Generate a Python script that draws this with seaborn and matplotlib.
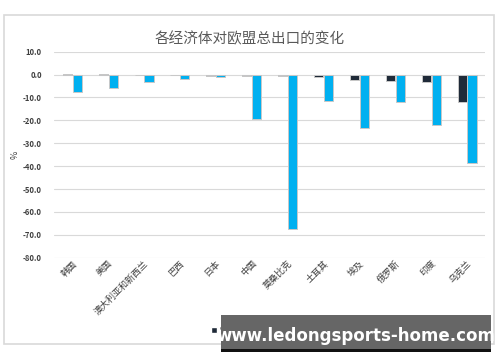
import matplotlib
matplotlib.use("Agg")
import matplotlib.pyplot as plt
import seaborn as sns
import pandas as pd
from matplotlib.patches import Rectangle, Patch

sns.set_theme(style="white")
plt.rcParams['font.family'] = ['Noto Sans CJK SC', 'DejaVu Sans']

categories = ["韩国", "美国", "澳大利亚和新西兰", "巴西", "日本", "中国",
              "莫桑比克", "土耳其", "埃及", "俄罗斯", "印度", "乌克兰"]
scenario1 = [0.3, 0.2, -0.3, -0.3, -0.5, -0.5, -0.4, -1.0, -2.4, -2.8, -3.1, -11.8]
scenario2 = [-7.6, -5.9, -3.1, -1.8, -1.0, -19.4, -67.5, -11.4, -23.2, -12.1, -21.9, -38.8]
series_names = ["情景一", "情景二"]
yticks = [10, 0, -10, -20, -30, -40, -50, -60, -70, -80]
colors = ["#1f2a38", "#00b0f0"]

df = pd.DataFrame({
    "cat": categories * 2,
    "val": scenario1 + scenario2,
    "s": [series_names[0]] * len(categories) + [series_names[1]] * len(categories),
})

fig = plt.figure(figsize=(5.0, 3.62), dpi=100)
fig.patch.set_facecolor("white")
fig.patches.append(Rectangle((4/500, 1-344/362), 490/500, (344-15)/362,
                             transform=fig.transFigure, fill=False,
                             edgecolor="#d9d9d9", linewidth=1.2))

ax = fig.add_axes([54.3/500, 1-257.7/362, (485-54.3)/500, (257.7-51.7)/362])
sns.barplot(data=df, x="cat", y="val", hue="s", order=categories,
            palette=colors, saturation=1, width=0.55, gap=0.08,
            edgecolor="#c8c8c8", linewidth=0.7, ax=ax, zorder=3)
ax.set_ylim(-80, 10)
ax.set_yticks(yticks)
ax.set_yticklabels([f"{v:.1f}" for v in yticks], fontsize=5.5, color="#404040",
                   fontweight="bold")
ax.yaxis.grid(True, color="#d9d9d9", linewidth=0.8, zorder=0)
ax.set_axisbelow(True)
for s in ax.spines.values():
    s.set_visible(False)
ax.tick_params(axis="y", length=0, pad=9)
ax.tick_params(axis="x", length=0, pad=1)
ax.set_xticks(range(len(categories)))
ax.set_xticklabels(categories, rotation=45, ha="right", rotation_mode="anchor",
                   fontsize=6.5, color="#404040")
ax.set_xlabel("")
ax.set_ylabel("%", fontsize=6.5, color="#404040")
ax.yaxis.set_label_coords(-(54.3-20)/430.7, (257.7-155)/206)
ax.set_xlim(-0.5, len(categories) - 0.5)

ax.legend_.remove()
handles = [Patch(facecolor=colors[0]), Patch(facecolor=colors[1])]
fig.legend(handles, series_names, loc="center", bbox_to_anchor=(250/500, 1-331/362),
           ncol=2, frameon=False, fontsize=6.5, handlelength=0.6, handleheight=0.6,
           columnspacing=0.8, handletextpad=0.3, labelcolor="#404040")

fig.suptitle("各经济体对欧盟总出口的变化", y=1-32/362, fontsize=10.5, color="#595959")

# watermark overlay
fig.patches.append(Rectangle((221/500, 1-352/362), 270/500, 37/362,
                             transform=fig.transFigure, facecolor="#666666",
                             edgecolor="none", zorder=10))
fig.patches.append(Rectangle((221/500, 1-352/362), 270/500, 3/362,
                             transform=fig.transFigure, facecolor="#111111",
                             edgecolor="none", zorder=10))
fig.text(356/500, 1-336/362, "www.ledongsports-home.com", ha="center", va="center",
         fontsize=12, fontweight="bold", color="white", family="DejaVu Sans", zorder=11)

fig.savefig("out.png", dpi=100)
